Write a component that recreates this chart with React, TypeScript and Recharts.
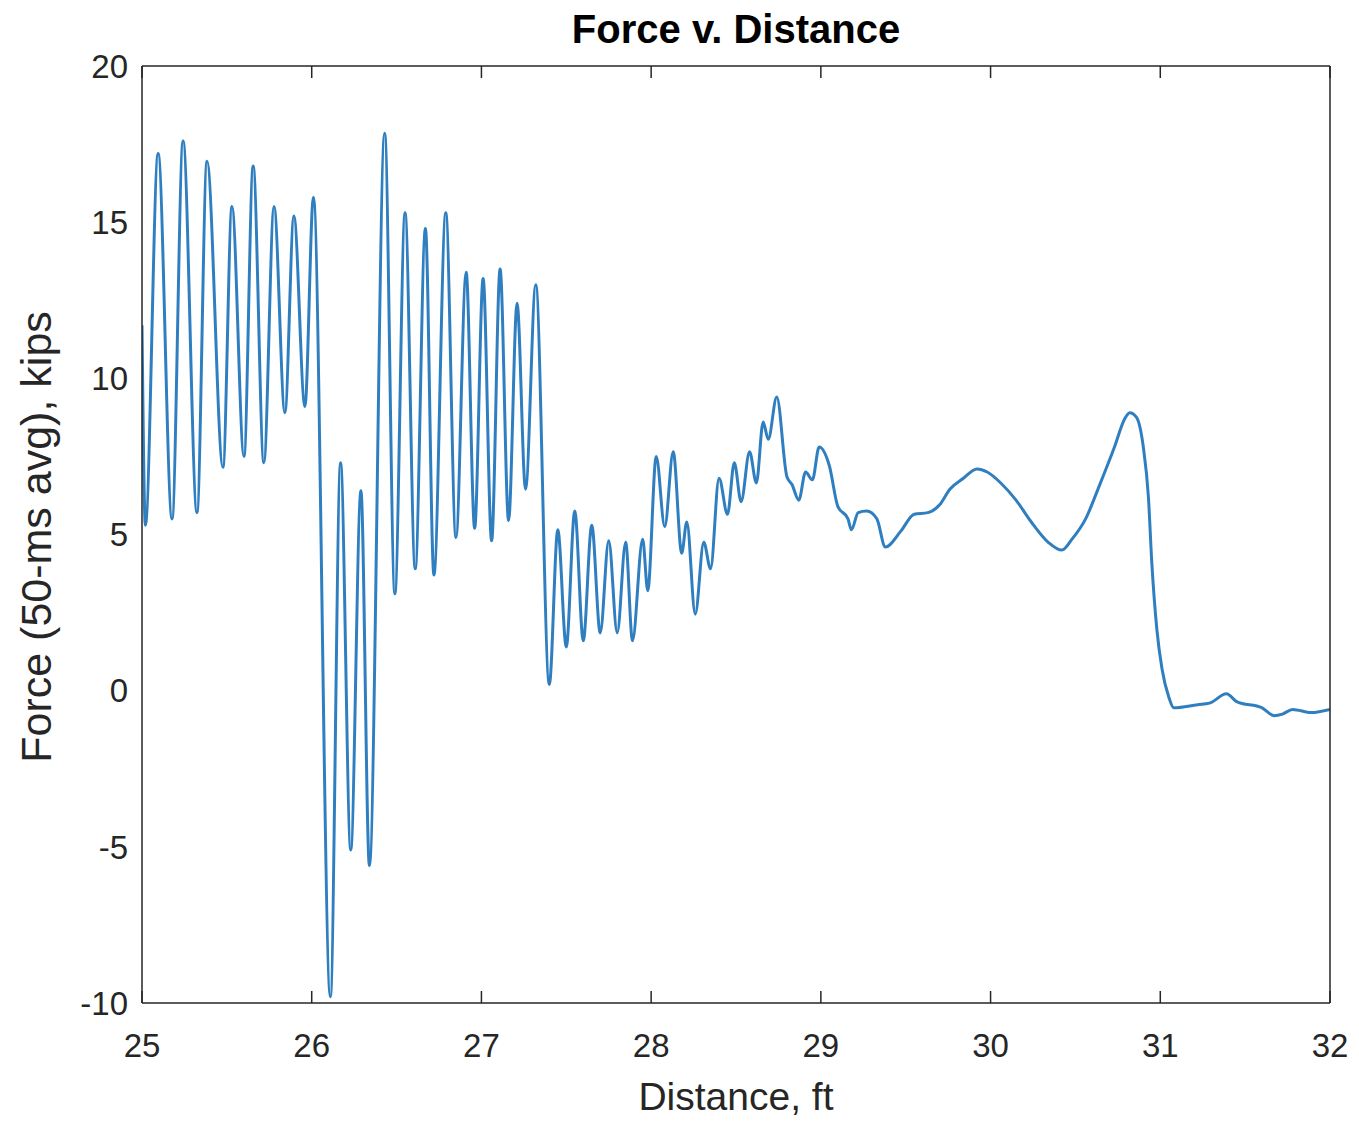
import React from "react";
import { LineChart, Line, XAxis, YAxis } from "recharts";

const distance = [
  25.0, 25.02, 25.095, 25.177, 25.242, 25.324, 25.383, 25.477, 25.53, 25.601,
  25.655, 25.718, 25.778, 25.842, 25.895, 25.96, 26.01, 26.11, 26.17, 26.23,
  26.29, 26.34, 26.43, 26.49, 26.55, 26.61, 26.67, 26.72, 26.79, 26.85,
  26.91, 26.96, 27.01, 27.06, 27.11, 27.16, 27.21, 27.26, 27.32, 27.4,
  27.45, 27.5, 27.55, 27.6, 27.65, 27.7, 27.75, 27.8, 27.85, 27.89,
  27.95, 27.98, 28.03, 28.08, 28.13, 28.18, 28.21, 28.26, 28.31, 28.35,
  28.4, 28.45, 28.49, 28.53, 28.58, 28.62, 28.66, 28.69, 28.74, 28.8,
  28.83, 28.87, 28.91, 28.95, 28.99, 29.05, 29.1, 29.16, 29.18, 29.22,
  29.27, 29.33, 29.38, 29.47, 29.55, 29.63, 29.7, 29.76, 29.84, 29.92,
  29.98, 30.06, 30.15, 30.24, 30.34, 30.42, 30.48, 30.56, 30.64, 30.73,
  30.79, 30.82, 30.86, 30.9, 30.93, 30.95, 30.98, 31.01, 31.05, 31.08,
  31.22, 31.29, 31.39, 31.45, 31.6, 31.67, 31.72, 31.78, 31.89, 32.0,
];

const force = [
  11.7, 5.3, 17.2, 5.5, 17.6, 5.7, 16.95, 7.15, 15.5, 7.5,
  16.8, 7.3, 15.5, 8.9, 15.2, 9.1, 15.8, -9.8, 7.3, -5.1,
  6.4, -5.6, 17.85, 3.1, 15.3, 3.9, 14.8, 3.7, 15.3, 4.9,
  13.4, 5.2, 13.2, 4.8, 13.5, 5.45, 12.4, 6.45, 13.0, 0.2,
  5.15, 1.4, 5.75, 1.6, 5.3, 1.85, 4.8, 1.85, 4.75, 1.6,
  4.85, 3.2, 7.5, 5.25, 7.65, 4.4, 5.4, 2.45, 4.75, 3.9,
  6.8, 5.65, 7.3, 6.05, 7.65, 6.65, 8.6, 8.05, 9.4, 6.85,
  6.6, 6.1, 7.0, 6.75, 7.8, 7.2, 5.9, 5.5, 5.15, 5.7,
  5.75, 5.5, 4.6, 5.1, 5.65, 5.7, 5.95, 6.45, 6.8, 7.1,
  7.0, 6.65, 6.1, 5.4, 4.75, 4.5, 4.85, 5.5, 6.55, 7.8,
  8.7, 8.9, 8.75, 7.8, 6.2, 4.1, 1.95, 0.7, -0.2, -0.55,
  -0.45, -0.4, -0.1, -0.35, -0.55, -0.8, -0.75, -0.6, -0.7, -0.6,
];

const xTicks = [25, 26, 27, 28, 29, 30, 31, 32];
const yTicks = [-10, -5, 0, 5, 10, 15, 20];

const data = distance.map((d, i) => ({ x: d, y: force[i] }));

const AXIS = "#262626";
const FONT = "'Liberation Sans', Arial, sans-serif";
const blank = () => "";

export default function App() {
  return (
    <div
      style={{
        position: "absolute",
        left: 0,
        top: 0,
        width: 1359,
        height: 1123,
        background: "#fff",
        fontFamily: FONT,
      }}
    >
      <LineChart
        width={1359}
        height={1123}
        data={data}
        margin={{ top: 66, right: 29, left: 0, bottom: 0 }}
      >
        {/* labelled axes (bottom / left); inward ticks come from mirrored copies */}
        <XAxis
          dataKey="x"
          type="number"
          domain={[25, 32]}
          ticks={xTicks}
          allowDataOverflow
          height={120}
          tickLine={false}
          tickSize={0}
          tickMargin={31}
          stroke={AXIS}
          strokeWidth={1.5}
          tick={{ fontSize: 33, fill: "#262626", fontFamily: FONT }}
        />
        <XAxis
          xAxisId="bm"
          dataKey="x"
          type="number"
          domain={[25, 32]}
          ticks={xTicks}
          mirror
          axisLine={false}
          tickSize={12}
          tickFormatter={blank}
          stroke={AXIS}
          strokeWidth={1.5}
        />
        <XAxis
          xAxisId="top"
          dataKey="x"
          type="number"
          orientation="top"
          domain={[25, 32]}
          ticks={xTicks}
          mirror
          tickSize={12}
          tickFormatter={blank}
          stroke={AXIS}
          strokeWidth={1.5}
        />
        <YAxis
          type="number"
          domain={[-10, 20]}
          ticks={yTicks}
          allowDataOverflow
          width={142}
          tickLine={false}
          tickSize={0}
          tickMargin={14}
          stroke={AXIS}
          strokeWidth={1.5}
          tick={{ fontSize: 33, fill: "#262626", fontFamily: FONT }}
        />
        <YAxis
          yAxisId="lm"
          type="number"
          domain={[-10, 20]}
          ticks={yTicks}
          mirror
          axisLine={false}
          tickSize={12}
          tickFormatter={blank}
          stroke={AXIS}
          strokeWidth={1.5}
        />
        <YAxis
          yAxisId="right"
          orientation="right"
          type="number"
          domain={[-10, 20]}
          ticks={yTicks}
          mirror
          tickSize={12}
          tickFormatter={blank}
          stroke={AXIS}
          strokeWidth={1.5}
        />
        <Line
          type="monotone"
          dataKey="y"
          stroke="#2f7fc0"
          strokeWidth={3}
          dot={false}
          isAnimationActive={false}
        />
      </LineChart>

      <div
        style={{
          position: "absolute",
          left: 142,
          width: 1188,
          top: 7,
          textAlign: "center",
          fontSize: 40,
          fontWeight: "bold",
          color: "#000",
        }}
      >
        Force v. Distance
      </div>
      <div
        style={{
          position: "absolute",
          left: 142,
          width: 1188,
          top: 1075,
          textAlign: "center",
          fontSize: 39,
          color: "#262626",
        }}
      >
        Distance, ft
      </div>
      <div
        style={{
          position: "absolute",
          left: 36,
          top: 537,
          transform: "translate(-50%, -50%) rotate(-90deg)",
          whiteSpace: "nowrap",
          fontSize: 43,
          color: "#262626",
        }}
      >
        Force (50-ms avg), kips
      </div>
    </div>
  );
}
